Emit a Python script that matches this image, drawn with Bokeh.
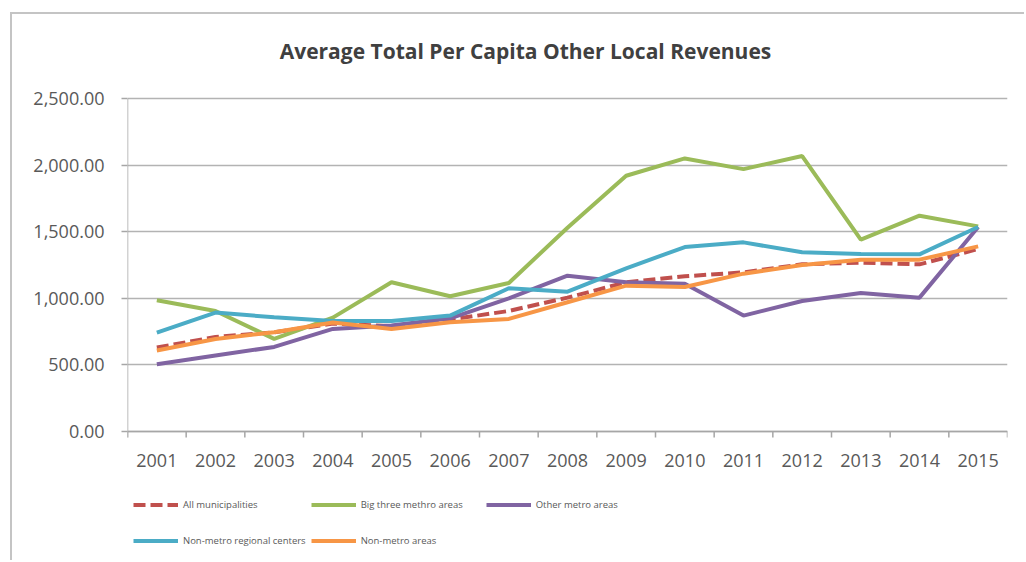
from bokeh.plotting import figure
from bokeh.models import (Range1d, FixedTicker, NumeralTickFormatter, Legend, LegendItem,
                          Label, Span)
from bokeh.core.properties import value
from bokeh.embed import file_html
from bokeh.resources import INLINE

years = list(range(2001, 2016))
all_municipalities = [630, 710, 745, 810, 790, 840, 905, 1005, 1120, 1165, 1195, 1255, 1268, 1255, 1370]
big_three = [985, 905, 695, 855, 1120, 1015, 1115, 1530, 1920, 2050, 1970, 2068, 1440, 1620, 1540]
other_metro = [505, 570, 635, 770, 795, 850, 1000, 1170, 1120, 1110, 870, 980, 1040, 1005, 1535]
non_metro_regional = [742, 893, 857, 830, 830, 870, 1075, 1050, 1225, 1385, 1420, 1345, 1333, 1330, 1535]
non_metro_areas = [608, 695, 745, 818, 770, 820, 845, 970, 1095, 1085, 1185, 1250, 1290, 1290, 1390]
y_ticks = [0, 500, 1000, 1500, 2000, 2500]
x_labels = [str(y) for y in years]
title_text = "Average Total Per Capita Other Local Revenues"

series = [
    ("All municipalities", all_municipalities, "#C0504D", "12 5"),
    ("Big three methro areas", big_three, "#9BBB59", "solid"),
    ("Other metro areas", other_metro, "#8064A2", "solid"),
    ("Non-metro regional centers", non_metro_regional, "#4BACC6", "solid"),
    ("Non-metro areas", non_metro_areas, "#F79646", "solid"),
]

FONT = "Open Sans"
TXT = "#595959"
AXIS = "#a6a6a6"

# frame geometry (pixels): 84 px title band above, 333 px value band, 129 px below
VAL_TOP = 2500
PX_PER_UNIT = 333 / VAL_TOP
Y_MAX = VAL_TOP + 84 / PX_PER_UNIT
Y_MIN = -129 / PX_PER_UNIT
TICK_LEN = 6 / PX_PER_UNIT
X0, X1 = years[0] - 0.5, years[-1] + 0.5
PX_PER_X = 880 / (X1 - X0)

p = figure(width=1014, height=548, output_backend="svg", toolbar_location=None,
           x_range=Range1d(X0, X1), y_range=Range1d(Y_MIN, Y_MAX),
           x_axis_location=None,
           min_border_left=115, min_border_right=19, min_border_top=0, min_border_bottom=2)
p.styles = {"margin-left": "10px", "margin-top": "12px",
            "border-left": "2px solid #c4c4c4", "border-top": "2px solid #c4c4c4"}
p.outline_line_color = None
p.background_fill_color = "white"
p.border_fill_color = "white"

p.add_layout(Label(x=X0 + 398 / PX_PER_X, y=VAL_TOP + 48 / PX_PER_UNIT, text=title_text,
                   text_align="center", text_baseline="middle",
                   text_font=FONT, text_font_size="21px", text_font_style="bold",
                   text_color="#404040"))

# y axis (real axis, line drawn separately so it stops at 0)
p.yaxis.ticker = FixedTicker(ticks=y_ticks, minor_ticks=[])
p.yaxis.formatter = NumeralTickFormatter(format="0,0.00")
p.yaxis.major_tick_out = 6
p.yaxis.major_tick_in = 0
p.yaxis.major_tick_line_color = AXIS
p.yaxis.major_tick_line_width = 1.5
p.yaxis.minor_tick_line_color = None
p.yaxis.axis_line_color = None
p.yaxis.major_label_standoff = 17
p.yaxis.major_label_text_font = FONT
p.yaxis.major_label_text_font_size = "18px"
p.yaxis.major_label_text_color = TXT

p.xgrid.grid_line_color = None
p.ygrid.grid_line_color = "#b3b3b3"
p.ygrid.grid_line_width = 1.5

# y axis line from 0 up to the top gridline
p.segment(x0=[X0], y0=[-TICK_LEN], x1=[X0], y1=[VAL_TOP], line_color=AXIS, line_width=1.5)
# category x axis: base line, boundary ticks and year labels
p.add_layout(Span(location=0, dimension="width", line_color=AXIS, line_width=1.5))
bounds = [y - 0.5 for y in years] + [years[-1] + 0.5]
p.segment(x0=bounds, y0=[0] * len(bounds), x1=bounds, y1=[-TICK_LEN] * len(bounds),
          line_color=AXIS, line_width=1.5)
p.text(x=years, y=[0] * len(years), text=x_labels, y_offset=29,
       text_align="center", text_baseline="middle",
       text_font=value(FONT), text_font_size="18px", text_color=TXT)

items = []
for name, vals, color, dash in series:
    r = p.line(years, vals, line_color=color, line_width=4, line_dash=dash)
    items.append(LegendItem(label=name, renderers=[r]))

legend = Legend(items=items, location=(6, 4), orientation="horizontal", ncols=3,
                glyph_width=45, glyph_height=31, label_height=31, label_width=120,
                label_standoff=5, spacing=5, padding=0, margin=0,
                border_line_color=None, background_fill_alpha=0,
                label_text_font=FONT, label_text_font_size="9.5px", label_text_color=TXT)
p.add_layout(legend, "center")

open("out.html", "w").write(file_html(p, INLINE))
